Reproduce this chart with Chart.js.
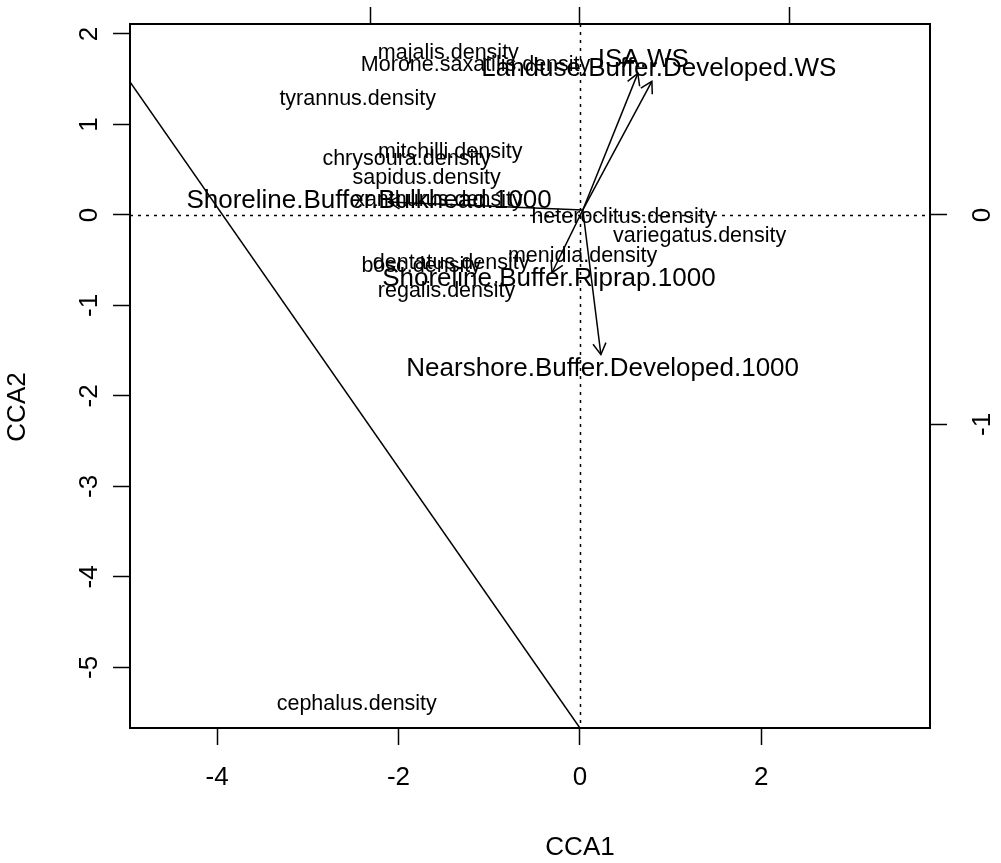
<!DOCTYPE html>
<html>
<head>
<meta charset="utf-8">
<title>CCA biplot</title>
<script src="https://cdn.jsdelivr.net/npm/chart.js@4.4.1/dist/chart.umd.min.js"></script>
<style>
  html, body { margin: 0; padding: 0; background: #fff; }
  #wrap { width: 1001px; height: 863px; }
</style>
</head>
<body>
<div id="wrap"><canvas id="cca" width="1001" height="863"></canvas></div>
<script>
// CCA ordination: species scores as text, environmental variables as biplot arrows.

var FONT = '"Liberation Sans", Arial, Helvetica, sans-serif';

// axis ranges and ticks (site/species scale)
var X_RANGE = [-4.96, 3.86];
var Y_RANGE = [-5.67, 2.11];
var X_TICKS = [-4, -2, 0, 2];
var Y_TICKS = [2, 1, 0, -1, -2, -3, -4, -5];
var X_TITLE = 'CCA1';
var Y_TITLE = 'CCA2';

// biplot scale (top / right axes); one biplot unit = BIPLOT_MUL plot units
var BIPLOT_MUL = 2.314;
var TOP_TICKS = [-1, 0, 1];
var RIGHT_TICKS = [0, -1];

// species scores
var speciesNames = [
  'majalis.density', 'Morone.saxatilis.density', 'tyrannus.density', 'mitchilli.density',
  'chrysoura.density', 'sapidus.density', 'xanthurus.density', 'heteroclitus.density',
  'variegatus.density', 'menidia.density', 'dentatus.density', 'bosc.density',
  'regalis.density', 'cephalus.density'
];
var speciesCCA1 = [-1.45, -1.15, -2.45, -1.43, -1.91, -1.69, -1.56, 0.48, 1.32, 0.03, -1.42, -1.75, -1.47, -2.46];
var speciesCCA2 = [1.79, 1.66, 1.28, 0.69, 0.62, 0.41, 0.16, -0.02, -0.23, -0.45, -0.53, -0.57, -0.84, -5.41];

// environmental biplot scores (biplot units)
var envNames = [
  'ISA.WS', 'Landuse.Buffer.Developed.WS', 'Shoreline.Buffer.Bulkhead.1000',
  'Shoreline.Buffer.Riprap.1000', 'Nearshore.Buffer.Developed.1000'
];
var envCCA1 = [0.276, 0.343, -0.912, -0.133, 0.100];
var envCCA2 = [0.676, 0.638, 0.062, -0.276, -0.667];
var arrowOrigin = [0.014, 0.024];

// straight line running off the lower edge
var lineCCA1 = [-4.96, 0];
var lineCCA2 = [1.47, -5.67];

function toPlot(v) { return v * BIPLOT_MUL; }

var datasets = [];
datasets.push({
  label: 'line',
  data: lineCCA1.map(function (v, i) { return { x: v, y: lineCCA2[i] }; }),
  showLine: true, borderColor: '#000', borderWidth: 1.5, pointRadius: 0
});
envNames.forEach(function (name, i) {
  datasets.push({
    label: name,
    data: [
      { x: toPlot(arrowOrigin[0]), y: toPlot(arrowOrigin[1]) },
      { x: toPlot(envCCA1[i]), y: toPlot(envCCA2[i]) }
    ],
    showLine: true, borderColor: '#000', borderWidth: 1.5, pointRadius: 0
  });
});
datasets.push({
  label: 'species',
  data: speciesCCA1.map(function (v, i) { return { x: v, y: speciesCCA2[i] }; }),
  pointRadius: 0
});

var biplotDecor = {
  id: 'biplotDecor',
  beforeDatasetsDraw: function (chart) {
    var ctx = chart.ctx, a = chart.chartArea, sx = chart.scales.x, sy = chart.scales.y;
    var x0 = Math.round(sx.getPixelForValue(0)) + 0.5;
    var y0 = Math.round(sy.getPixelForValue(0)) + 0.5;
    ctx.save();
    ctx.strokeStyle = '#000';
    ctx.lineWidth = 1.5;
    ctx.setLineDash([3, 5]);
    ctx.beginPath();
    ctx.moveTo(a.left, y0); ctx.lineTo(a.right, y0);
    ctx.moveTo(x0, a.top); ctx.lineTo(x0, a.bottom);
    ctx.stroke();
    ctx.restore();
  },
  afterDatasetsDraw: function (chart) {
    var ctx = chart.ctx, sx = chart.scales.x, sy = chart.scales.y;
    ctx.save();
    ctx.fillStyle = '#000';
    ctx.strokeStyle = '#000';
    ctx.lineWidth = 1.5;
    ctx.textAlign = 'center';
    ctx.textBaseline = 'middle';

    // species labels
    ctx.font = '21.5px ' + FONT;
    speciesNames.forEach(function (name, i) {
      ctx.fillText(name, sx.getPixelForValue(speciesCCA1[i]), sy.getPixelForValue(speciesCCA2[i]));
    });

    // arrow heads and variable labels
    var ox = sx.getPixelForValue(toPlot(arrowOrigin[0]));
    var oy = sy.getPixelForValue(toPlot(arrowOrigin[1]));
    ctx.font = '26px ' + FONT;
    envNames.forEach(function (name, i) {
      var tx = sx.getPixelForValue(toPlot(envCCA1[i]));
      var ty = sy.getPixelForValue(toPlot(envCCA2[i]));
      var ang = Math.atan2(ty - oy, tx - ox), len = 13, spread = Math.PI / 6;
      ctx.beginPath();
      ctx.moveTo(tx - len * Math.cos(ang - spread), ty - len * Math.sin(ang - spread));
      ctx.lineTo(tx, ty);
      ctx.lineTo(tx - len * Math.cos(ang + spread), ty - len * Math.sin(ang + spread));
      ctx.stroke();
      var lx = arrowOrigin[0] + 1.1 * (envCCA1[i] - arrowOrigin[0]);
      var ly = arrowOrigin[1] + 1.1 * (envCCA2[i] - arrowOrigin[1]);
      ctx.fillText(name, sx.getPixelForValue(toPlot(lx)), sy.getPixelForValue(toPlot(ly)));
    });
    ctx.restore();
  },
  afterDraw: function (chart) {
    var ctx = chart.ctx, a = chart.chartArea;
    ctx.save();
    ctx.fillStyle = '#000';
    ctx.font = '26px ' + FONT;
    ctx.textAlign = 'center';
    ctx.textBaseline = 'middle';

    // vertical axes carry labels parallel to the axis
    [[chart.scales.y, a.left - 40], [chart.scales.y2, a.right + 53]].forEach(function (pair) {
      var s = pair[0];
      s.ticks.forEach(function (t) {
        ctx.save();
        ctx.translate(pair[1], s.getPixelForValue(t.value));
        ctx.rotate(-Math.PI / 2);
        ctx.fillText(String(t.value), 0, 0);
        ctx.restore();
      });
    });

    // axis titles, three lines out from the box
    var midX = (a.left + a.right) / 2 + 50;
    var midY = (a.top + a.bottom) / 2 + 31;
    ctx.fillText(X_TITLE, midX, a.bottom + 120);
    ctx.save();
    ctx.translate(a.left - 112, midY);
    ctx.rotate(-Math.PI / 2);
    ctx.fillText(Y_TITLE, 0, 0);
    ctx.restore();
    ctx.restore();
  }
};

function axisGrid() {
  return { drawOnChartArea: false, drawTicks: true, tickLength: 17, tickWidth: 1.5, tickColor: '#000' };
}
var axisBorder = { display: true, color: '#000', width: 2 };

new Chart(document.getElementById('cca'), {
  type: 'scatter',
  data: { datasets: datasets },
  options: {
    responsive: false,
    animation: false,
    events: [],
    layout: { padding: 0 },
    plugins: { legend: { display: false }, tooltip: { enabled: false } },
    scales: {
      x: {
        type: 'linear', position: 'bottom', min: X_RANGE[0], max: X_RANGE[1],
        afterBuildTicks: function (s) { s.ticks = X_TICKS.map(function (v) { return { value: v }; }); },
        afterFit: function (s) { s.height = 135; },
        grid: axisGrid(), border: axisBorder,
        ticks: {
          color: '#000', font: { family: FONT, size: 26 }, padding: 17,
          maxRotation: 0, minRotation: 0, autoSkip: false,
          callback: function (v) { return String(v); }
        }
      },
      y: {
        type: 'linear', position: 'left', min: Y_RANGE[0], max: Y_RANGE[1],
        afterBuildTicks: function (s) { s.ticks = Y_TICKS.map(function (v) { return { value: v }; }); },
        afterFit: function (s) { s.width = 130; },
        grid: axisGrid(), border: axisBorder,
        ticks: { display: false, autoSkip: false }
      },
      x2: {
        type: 'linear', position: 'top', min: X_RANGE[0] / BIPLOT_MUL, max: X_RANGE[1] / BIPLOT_MUL,
        afterBuildTicks: function (s) { s.ticks = TOP_TICKS.map(function (v) { return { value: v }; }); },
        afterFit: function (s) { s.height = 24; },
        grid: axisGrid(), border: axisBorder,
        ticks: { display: false, autoSkip: false }
      },
      y2: {
        type: 'linear', position: 'right', min: Y_RANGE[0] / BIPLOT_MUL, max: Y_RANGE[1] / BIPLOT_MUL,
        afterBuildTicks: function (s) { s.ticks = RIGHT_TICKS.map(function (v) { return { value: v }; }); },
        afterFit: function (s) { s.width = 71; },
        grid: axisGrid(), border: axisBorder,
        ticks: { display: false, autoSkip: false }
      }
    }
  },
  plugins: [biplotDecor]
});
</script>
</body>
</html>
